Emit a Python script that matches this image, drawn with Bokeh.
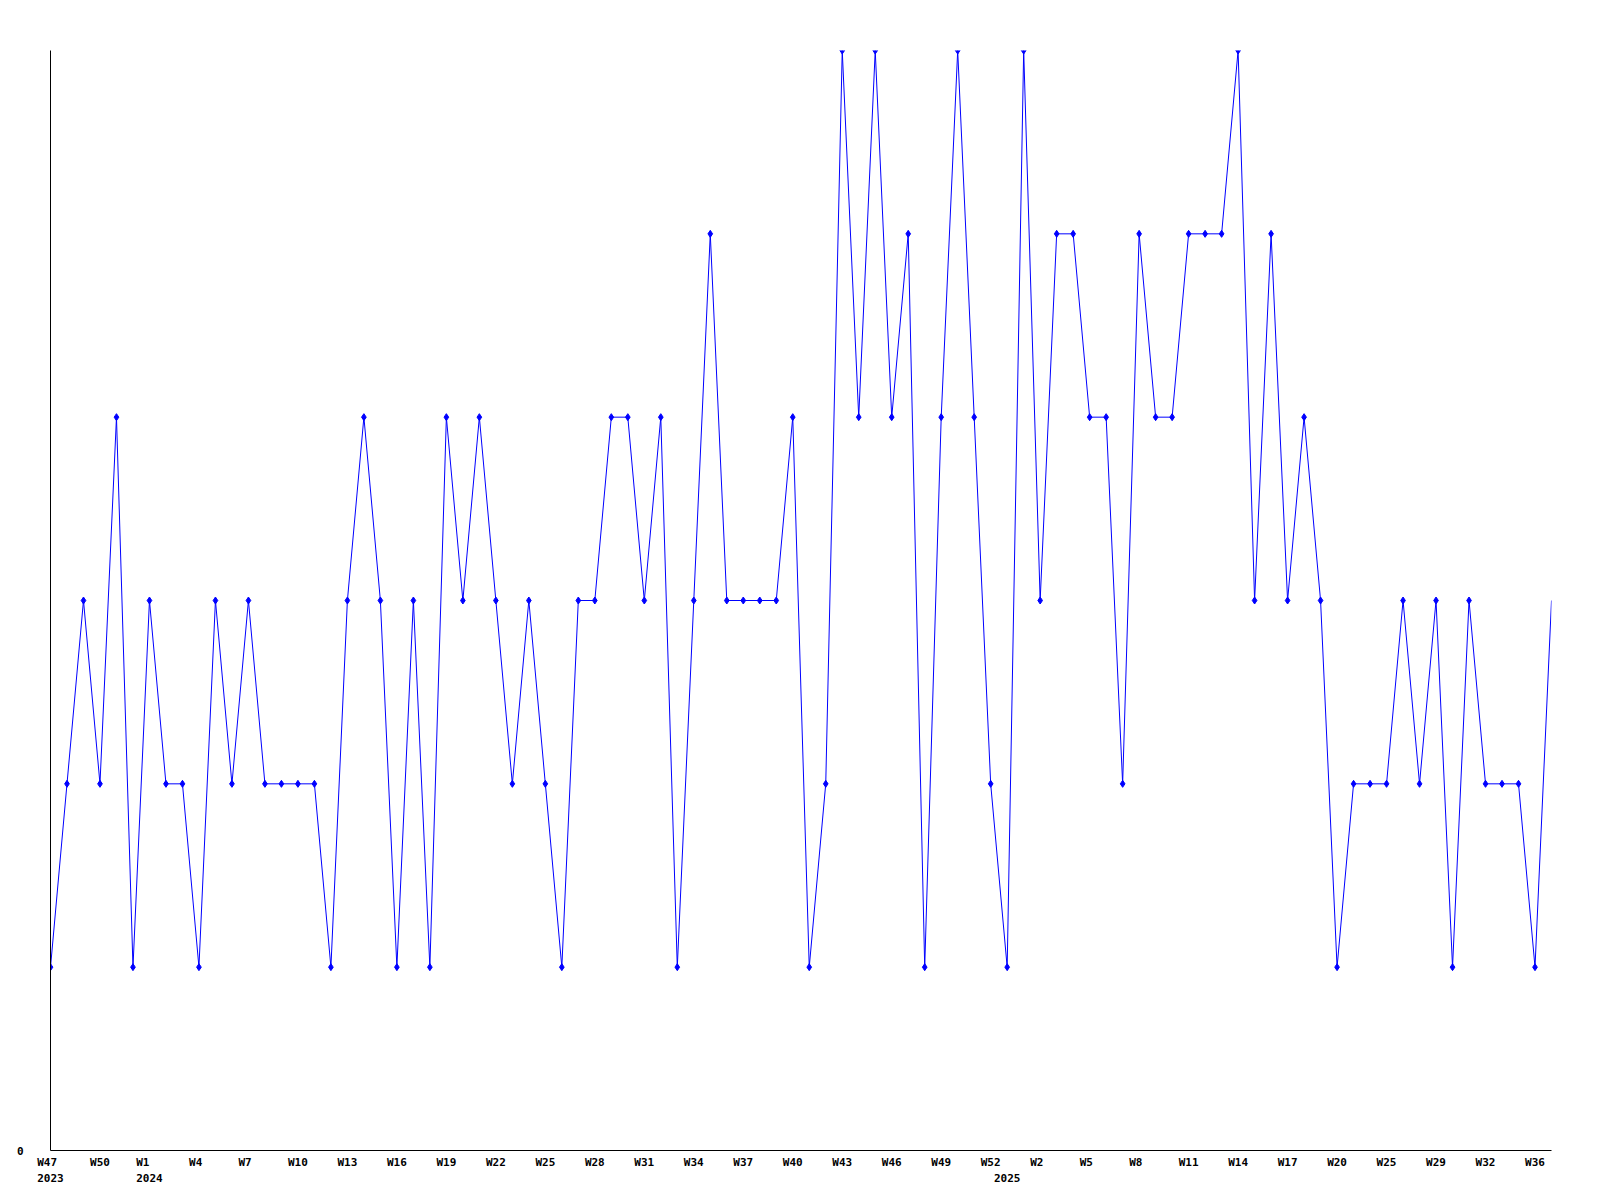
from bokeh.plotting import figure
from bokeh.models import Range1d, FixedTicker
from bokeh.embed import file_html
from bokeh.resources import INLINE

# ---- data ----
weeks = (
    ["W47", "W48", "W49", "W50", "W51", "W52"]
    + ["W%d" % i for i in range(1, 53)]
    + ["W0"] + ["W%d" % i for i in range(1, 22)]
    + ["W23", "W25", "W26", "W28", "W29", "W30", "W31", "W32", "W33", "W35", "W36", "W37"]
)
years = [2023] * 6 + [2024] * 52 + [2025] * 34
values = [
    1, 2, 3, 2, 4, 1, 3, 2, 2, 1,
    3, 2, 3, 2, 2, 2, 2, 1, 3, 4,
    3, 1, 3, 1, 4, 3, 4, 3, 2, 3,
    2, 1, 3, 3, 4, 4, 3, 4, 1, 3,
    5, 3, 3, 3, 3, 4, 1, 2, 6, 4,
    6, 4, 5, 1, 4, 6, 4, 2, 1, 6,
    3, 5, 5, 4, 4, 2, 5, 4, 4, 5,
    5, 5, 6, 3, 5, 3, 4, 3, 1, 2,
    2, 2, 3, 2, 3, 1, 3, 2, 2, 2,
    1, 3,
]
y_ticks = [0]
label_every = 3

xs = list(range(len(values)))

NB = "\u00a0"
FONT = "DejaVu Sans Mono"

# tick labels: week every 3rd point, year under the first week of each year
overrides = {}
ticks = []
first_of_year = {}
for i, yv in enumerate(years):
    first_of_year.setdefault(yv, i)
for i in xs:
    wk = None
    if i % label_every == 0:
        wk = weeks[i]
        if len(wk) < 3:
            wk = wk + NB * (3 - len(wk))
    yr = str(years[i]) if first_of_year[years[i]] == i else None
    if wk is None and yr is None:
        continue
    ticks.append(i)
    if yr is None:
        overrides[i] = wk
    else:
        w = wk if wk is not None else ""
        w = w + NB * (len(yr) - len(w))
        overrides[i] = w + "\n" + yr

p = figure(
    width=1592, height=1192,
    output_backend="svg", toolbar_location=None,
    x_range=Range1d(0, len(values) - 1), y_range=Range1d(0, 6),
    min_border_left=50, min_border_right=41,
    min_border_top=50, min_border_bottom=42,
)
p.outline_line_color = None
p.background_fill_color = "white"
p.border_fill_color = "white"
p.xgrid.visible = False
p.ygrid.visible = False

p.line(xs, values, line_color="#0000ff", line_width=1)
p.scatter(xs[:-1], values[:-1], marker="diamond", size=7,
          fill_color="#0000ff", line_color="#0000ff")

xa = p.xaxis[0]
xa.ticker = FixedTicker(ticks=ticks)
xa.major_label_overrides = overrides
xa.major_tick_line_color = None
xa.minor_tick_line_color = None
xa.major_tick_out = 0
xa.major_tick_in = 0
xa.major_label_standoff = 5
xa.axis_line_color = "black"
xa.axis_line_width = 1
xa.major_label_text_font = FONT
xa.major_label_text_font_style = "bold"
xa.major_label_text_font_size = "11px"
xa.major_label_text_color = "black"
xa.major_label_text_line_height = 1.3

ya = p.yaxis[0]
ya.ticker = FixedTicker(ticks=y_ticks)
ya.major_tick_line_color = None
ya.minor_tick_line_color = None
ya.major_tick_out = 0
ya.major_tick_in = 0
ya.major_label_standoff = 27
ya.axis_line_color = "black"
ya.major_label_text_font = FONT
ya.major_label_text_font_style = "bold"
ya.major_label_text_font_size = "11px"
ya.major_label_text_color = "black"

open("out.html", "w").write(file_html(p, INLINE))
